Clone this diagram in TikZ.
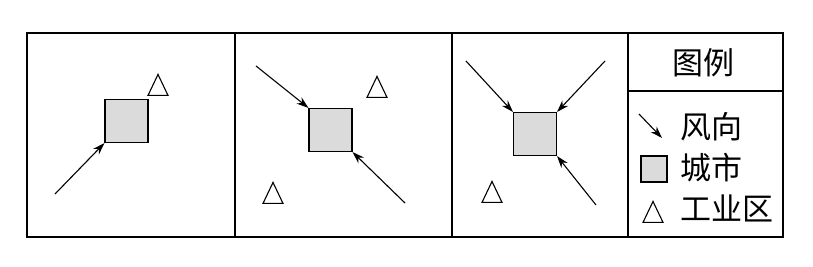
\documentclass[tikz,border=0pt]{standalone}
\usepackage{fontspec}
\newfontfamily\cjk{Noto Sans CJK SC}
\usepackage{tikz}
\usetikzlibrary{positioning,arrows.meta,shapes.geometric}

\begin{document}
\begin{tikzpicture}[x=1pt, y=-1pt,
    frame/.style={line width=1.3pt},
    city/.style={draw, line width=1.1pt, fill=gray!28, minimum size=43pt, inner sep=0pt},
    zone/.style={draw, line width=1.1pt, isosceles triangle, isosceles triangle stretches,
        shape border rotate=90, minimum width=20pt, minimum height=21pt, inner sep=0pt, anchor=apex},
    wind/.style={-{Stealth[length=12pt, width=8pt]}, line width=1.1pt},
    lbl/.style={font=\cjk\fontsize{31pt}{33pt}\selectfont, inner sep=0pt},
]
\useasboundingbox (0,0) rectangle (813,267);

% frame and panels
\draw[frame] (27,33) rectangle (783,237);
\draw[frame] (235,33) -- (235,237);
\draw[frame] (452,33) -- (452,237);
\draw[frame] (628,33) -- (628,237);
\draw[frame] (628,91) -- (783,91);

% panel 1
\node[city] (city1) at (126.5,121) {};
\node[zone] (zone1) at (158,73) {};
\coordinate (w1) at (55,194);
\draw[wind] (w1) -- (city1.south west);

% panel 2
\node[city] (city2) at (330.5,130) {};
\node[zone] (zone2a) at (377,75) {};
\node[zone] (zone2b) at (273,181) {};
\coordinate (w2a) at (256,66);
\coordinate (w2b) at (405,203);
\draw[wind] (w2a) -- (city2.north west);
\draw[wind] (w2b) -- (city2.south east);

% panel 3
\node[city] (city3) at (535,134) {};
\node[zone] (zone3) at (492,180) {};
\coordinate (w3a) at (466,61);
\coordinate (w3b) at (605,61);
\coordinate (w3c) at (596,205);
\draw[wind] (w3a) -- (city3.north west);
\draw[wind] (w3b) -- (city3.north east);
\draw[wind] (w3c) -- (city3.south east);

% legend
\node[lbl] (title) at (703,63) {图例};
\coordinate (la) at (639,114);
\coordinate (lb) at (662,138);
\draw[wind] (la) -- (lb);
\node[lbl, anchor=west] (windtxt) at (680,127) {风向};
\node[city, minimum size=26pt] (citykey) at (654,169) {};
\node[lbl, anchor=west] (citytxt) at (680,168) {城市};
\node[zone] (zonekey) at (653,200) {};
\node[lbl, anchor=west] (zonetxt) at (680,208) {工业区};
\end{tikzpicture}
\end{document}
